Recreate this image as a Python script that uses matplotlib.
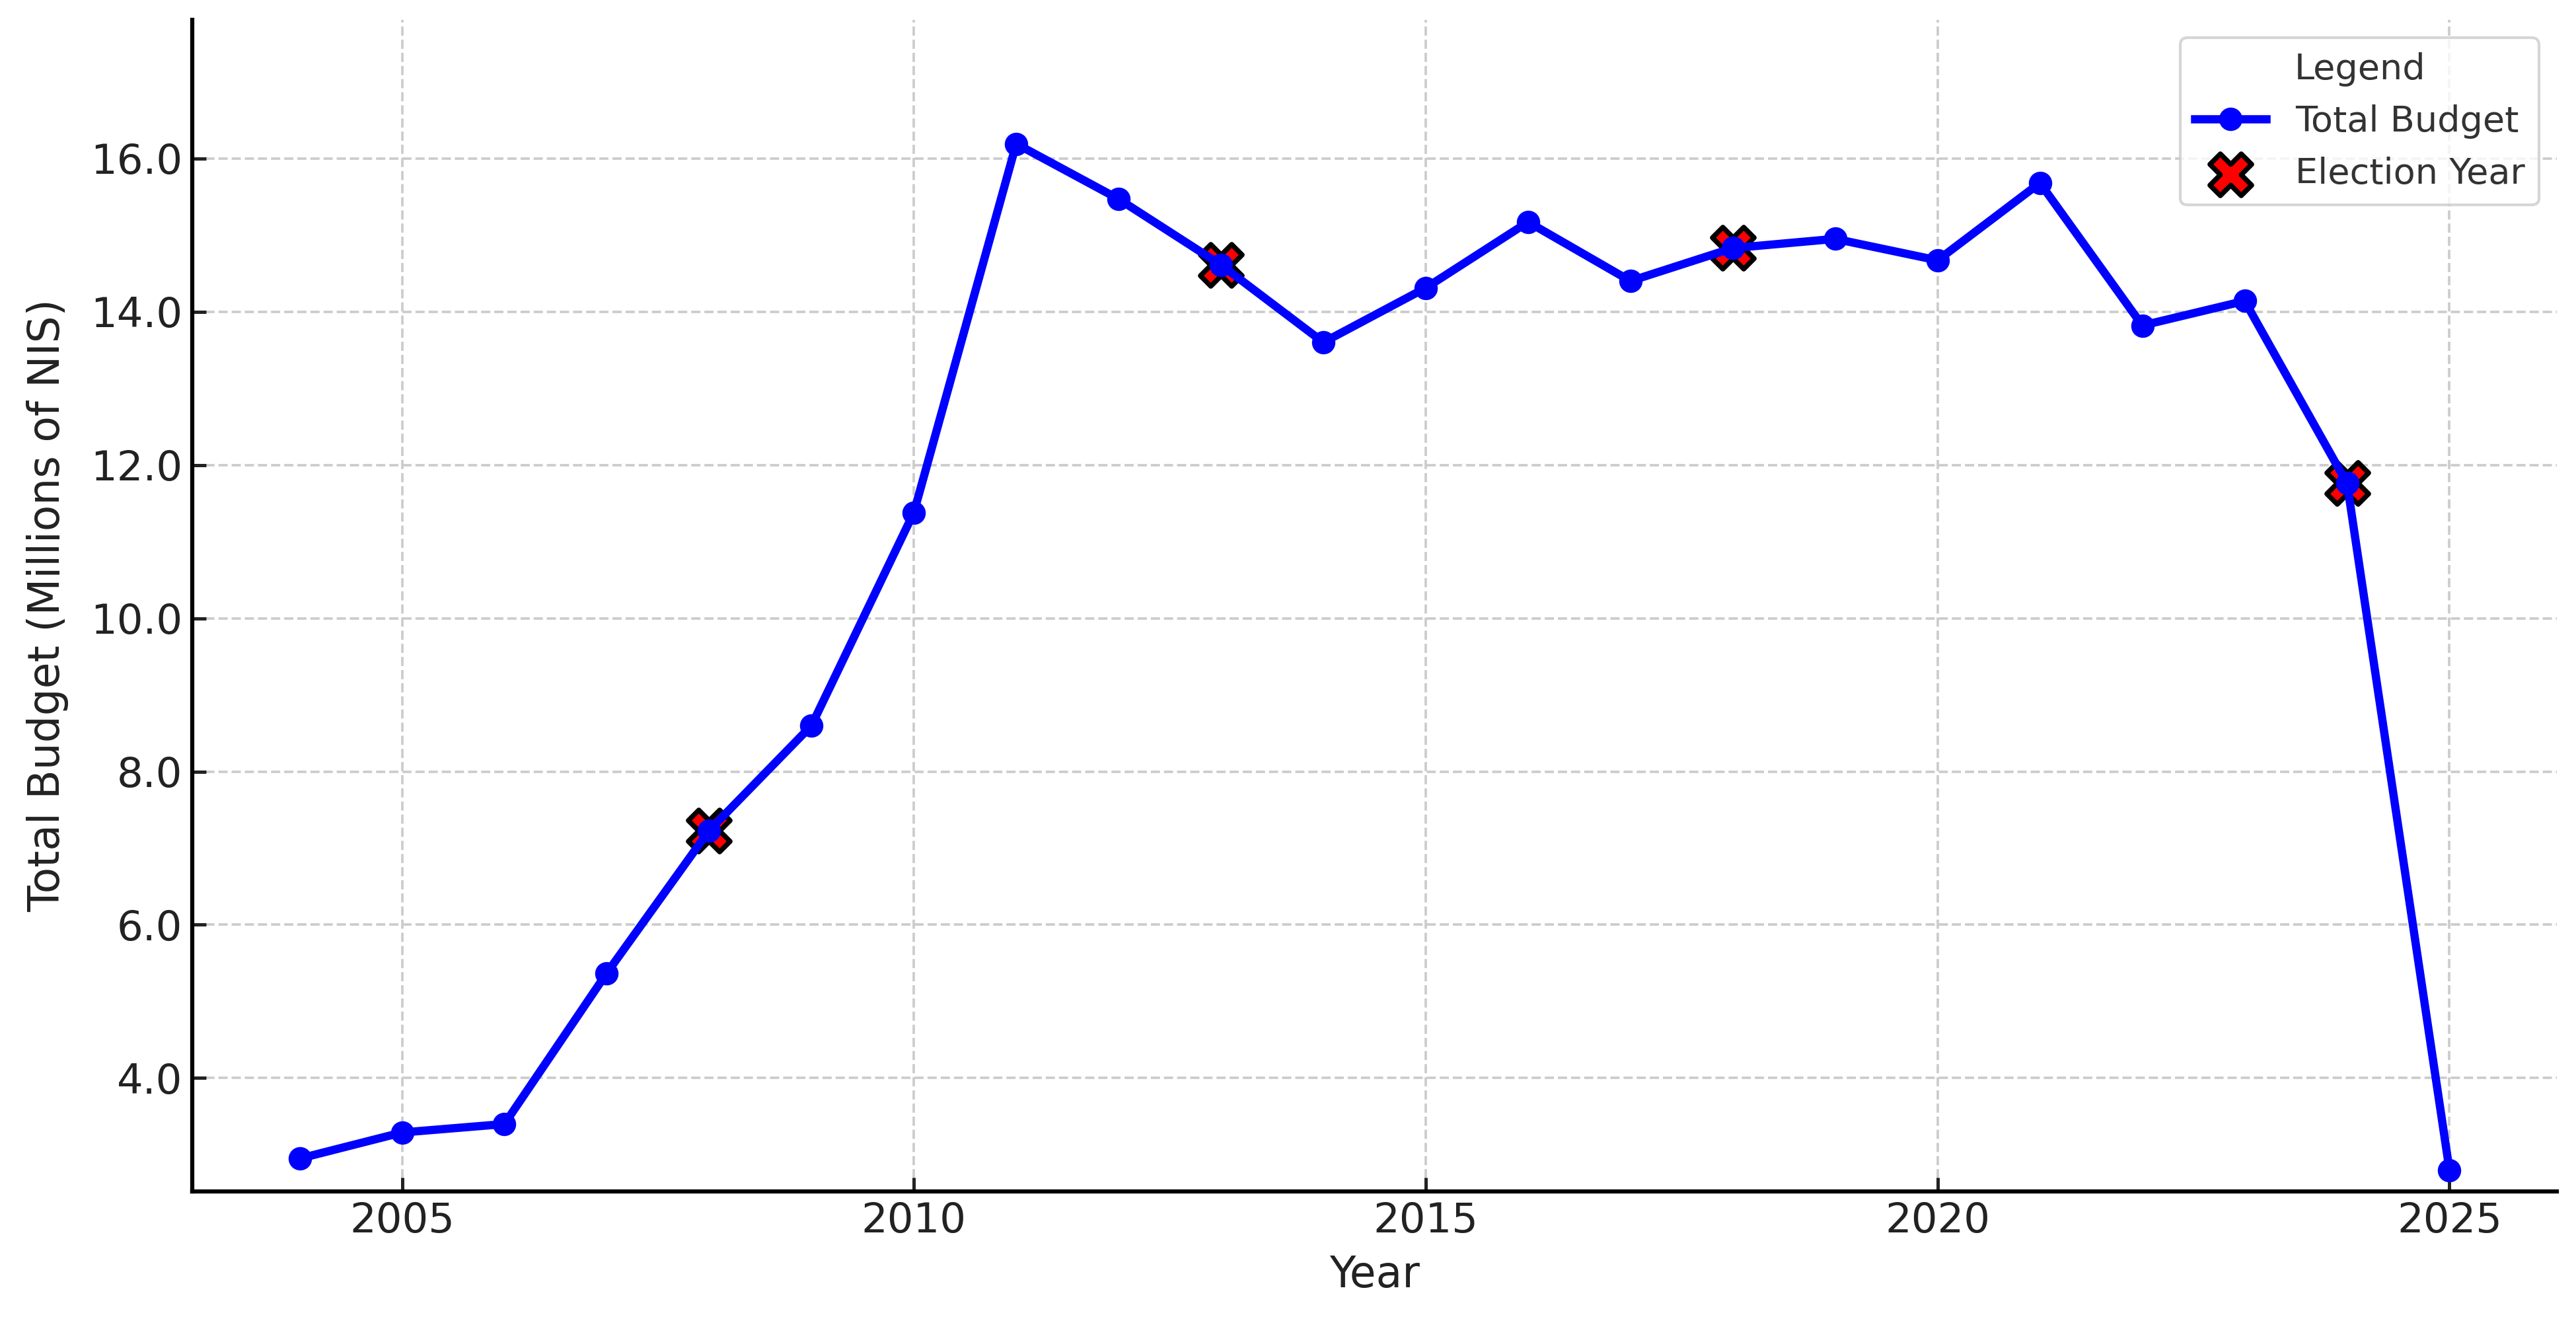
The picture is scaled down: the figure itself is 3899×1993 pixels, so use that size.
import matplotlib.pyplot as plt
from matplotlib.ticker import FormatStrFormatter

# yearly total budget, millions of NIS
years = [2004, 2005, 2006, 2007, 2008, 2009, 2010, 2011, 2012, 2013, 2014,
         2015, 2016, 2017, 2018, 2019, 2020, 2021, 2022, 2023, 2024, 2025]
budget = [2.95, 3.29, 3.40, 5.37, 7.23, 8.60, 11.38, 16.19, 15.47, 14.61, 13.60,
          14.31, 15.17, 14.40, 14.83, 14.95, 14.67, 15.68, 13.82, 14.14, 11.76, 2.80]

election_years = [2008, 2013, 2018, 2024]
election_budget = [budget[years.index(y)] for y in election_years]

fig = plt.figure(figsize=(3899 / 300, 1993 / 300), dpi=300)
ax = fig.add_axes([0.0746, 0.0953, 0.918, 0.8897])

sc = ax.scatter(election_years, election_budget, marker='X', s=230, c='red',
                edgecolors='black', linewidths=1.8, zorder=2, label='Election Year')
ln, = ax.plot(years, budget, color='blue', marker='o', linewidth=3, markersize=7.5,
              zorder=3, label='Total Budget')

ax.set_ylim(min(budget) * 0.9, max(budget) * 1.1)
ax.yaxis.set_major_formatter(FormatStrFormatter('%.1f'))

ax.set_xlabel('Year', fontsize=15.5, color='#222222', labelpad=5)
ax.set_ylabel('Total Budget (Millions of NIS)', fontsize=15.5, color='#222222', labelpad=8)
ax.tick_params(axis='both', direction='in', labelsize=15, colors='#222222',
               length=5, width=1.2)
ax.grid(True, linestyle='--', color='#cccccc', linewidth=0.9)

for s in ['top', 'right']:
    ax.spines[s].set_visible(False)
for s in ['left', 'bottom']:
    ax.spines[s].set_linewidth(1.5)

leg = ax.legend(handles=[ln, sc], title='Legend', loc='upper right', fontsize=13,
                title_fontsize=13, frameon=True, fancybox=True)
leg.get_frame().set_edgecolor('#cccccc')
for t in leg.get_texts():
    t.set_color('#333333')
leg.get_title().set_color('#333333')

fig.savefig('out.png', dpi=300)
